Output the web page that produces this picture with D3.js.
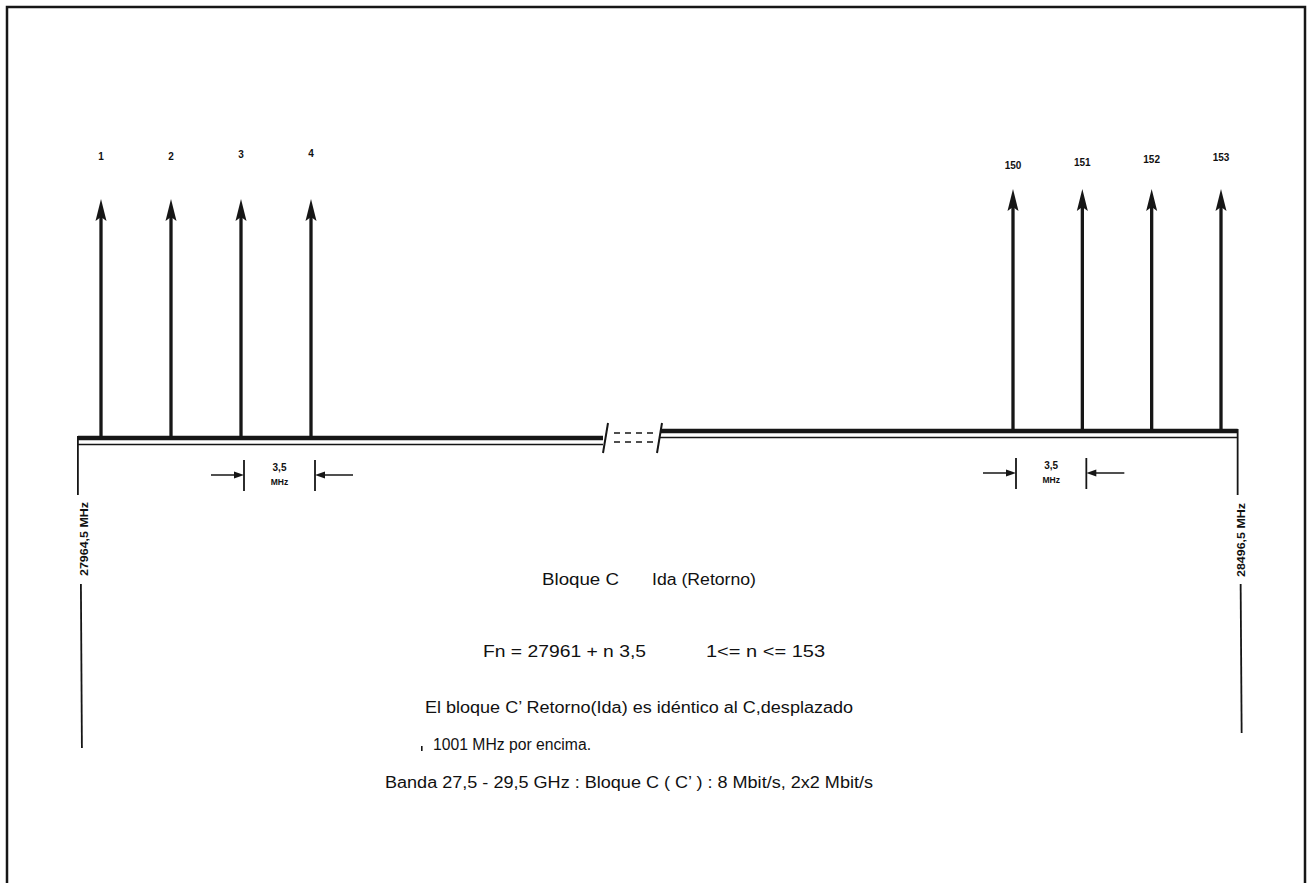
<!DOCTYPE html>
<html>
<head>
<meta charset="utf-8">
<script src="https://cdn.jsdelivr.net/npm/d3@7"></script>
<style>
  html, body { margin: 0; padding: 0; background: #fff; }
  svg { display: block; }
  text { font-family: 'Liberation Sans', Arial, sans-serif; fill: #111; }
</style>
</head>
<body>
<svg id="chart" width="1312" height="883"></svg>
<script>
'use strict';

// channel numbers drawn at each end of the band
var leftChannels = [1, 2, 3, 4];
var rightChannels = [150, 151, 152, 153];
// band edges (MHz)
var edgeLabels = ['27964,5 MHz', '28496,5 MHz'];
// spacing annotation, shown between channels 3-4 and 150-151
var spacingPairs = [[3, 4], [150, 151]];
var spacingLabel = ['3,5', 'MHz'];

var textLines = [
  'Bloque C',
  'Ida (Retorno)',
  'Fn = 27961 + n 3,5',
  '1<= n <= 153',
  'El bloque C\u2019 Retorno(Ida) es idéntico al C,desplazado',
  '1001 MHz por encima.',
  'Banda 27,5 - 29,5 GHz : Bloque C ( C\u2019 ) : 8 Mbit/s, 2x2 Mbit/s'
];

var svg = d3.select('#chart');
var ink = '#161616';

// two pieces of the broken frequency axis
var xLeft = d3.scaleLinear().domain([1, 4]).range([101, 311]);
var xRight = d3.scaleLinear().domain([150, 153]).range([1013, 1221]);

var left = { x: xLeft, channels: leftChannels, base: 438, tip: 199,
  from: xLeft(0.67), to: 603, labelY: [160, 160, 158, 157] };
var right = { x: xRight, channels: rightChannels, base: 431, tip: 189,
  from: 660, to: xRight(153.24), labelY: [169, 166, 163, 161] };

// outer frame (no bottom edge)
svg.append('path')
  .attr('d', 'M7,883 V7 H1305 V883')
  .attr('fill', 'none')
  .attr('stroke', ink)
  .attr('stroke-width', 2.5);

function drawSegment(seg) {
  // thick axis + thin line below it
  svg.append('line')
    .attr('x1', seg.from).attr('x2', seg.to)
    .attr('y1', seg.base).attr('y2', seg.base)
    .attr('stroke', ink).attr('stroke-width', 4.5);
  svg.append('line')
    .attr('x1', seg.from).attr('x2', seg.to)
    .attr('y1', seg.base + 6.5).attr('y2', seg.base + 6.5)
    .attr('stroke', ink).attr('stroke-width', 1.3);

  var g = svg.append('g');
  g.selectAll('line.carrier')
    .data(seg.channels)
    .enter().append('line')
    .attr('class', 'carrier')
    .attr('x1', function(d) { return seg.x(d); })
    .attr('x2', function(d) { return seg.x(d); })
    .attr('y1', seg.base)
    .attr('y2', seg.tip + 15)
    .attr('stroke', ink)
    .attr('stroke-width', 3.3);

  // filled arrow heads
  g.selectAll('path.tip')
    .data(seg.channels)
    .enter().append('path')
    .attr('class', 'tip')
    .attr('d', function(d) {
      var x = seg.x(d);
      return 'M' + x + ',' + seg.tip + ' L' + (x + 5.5) + ',' + (seg.tip + 22) +
        ' L' + x + ',' + (seg.tip + 18) + ' L' + (x - 5.5) + ',' + (seg.tip + 22) + ' Z';
    })
    .attr('fill', ink);

  g.selectAll('text.num')
    .data(seg.channels)
    .enter().append('text')
    .attr('class', 'num')
    .attr('x', function(d) { return seg.x(d); })
    .attr('y', function(d, i) { return seg.labelY[i]; })
    .attr('text-anchor', 'middle')
    .style('font-size', '10px')
    .style('font-weight', 'bold')
    .text(function(d) { return d; });
}

drawSegment(left);
drawSegment(right);

// axis break: two slashes with dashes between
[[608, 603], [662, 657]].forEach(function(s) {
  svg.append('line')
    .attr('x1', s[0]).attr('y1', 423)
    .attr('x2', s[1]).attr('y2', 453)
    .attr('stroke', ink).attr('stroke-width', 2);
});
[433, 442].forEach(function(y) {
  svg.append('line')
    .attr('x1', 614).attr('x2', 654)
    .attr('y1', y).attr('y2', y)
    .attr('stroke', ink).attr('stroke-width', 1.5)
    .attr('stroke-dasharray', '6,5');
});

// band edge verticals with rotated frequency labels
[[left.from, left.base, 748, edgeLabels[0], 84, 539],
 [right.to, right.base, 733, edgeLabels[1], 1241, 540]].forEach(function(e) {
  svg.append('line')
    .attr('x1', e[0]).attr('x2', e[0])
    .attr('y1', e[1] - 2).attr('y2', 495)
    .attr('stroke', ink).attr('stroke-width', 1.8);
  svg.append('line')
    .attr('x1', e[0] + 3).attr('x2', e[0] + 4)
    .attr('y1', 584).attr('y2', e[2])
    .attr('stroke', ink).attr('stroke-width', 1.8);
  svg.append('text')
    .attr('transform', 'translate(' + e[4] + ',' + e[5] + ') rotate(-90)')
    .attr('text-anchor', 'middle')
    .attr('dy', '0.35em')
    .attr('textLength', 74)
    .attr('lengthAdjust', 'spacingAndGlyphs')
    .style('font-size', '10px')
    .style('font-weight', 'bold')
    .text(e[3]);
});

// 3,5 MHz spacing dimensions
spacingPairs.forEach(function(p, i) {
  var seg = i === 0 ? left : right;
  var xa = seg.x(p[0]) + 3;
  var xb = seg.x(p[1]) + 4;
  var y = i === 0 ? 475 : 473;
  [xa, xb].forEach(function(x) {
    svg.append('line')
      .attr('x1', x).attr('x2', x)
      .attr('y1', y - 15).attr('y2', y + 16)
      .attr('stroke', ink).attr('stroke-width', 1.8);
  });
  svg.append('line')
    .attr('x1', xa - 33).attr('x2', xa - 8)
    .attr('y1', y).attr('y2', y)
    .attr('stroke', ink).attr('stroke-width', 1.5);
  svg.append('path')
    .attr('d', 'M' + xa + ',' + y + ' L' + (xa - 10) + ',' + (y - 3.5) + ' L' + (xa - 10) + ',' + (y + 3.5) + ' Z')
    .attr('fill', ink);
  svg.append('line')
    .attr('x1', xb + 8).attr('x2', xb + 38)
    .attr('y1', y).attr('y2', y)
    .attr('stroke', ink).attr('stroke-width', 1.5);
  svg.append('path')
    .attr('d', 'M' + xb + ',' + y + ' L' + (xb + 10) + ',' + (y - 3.5) + ' L' + (xb + 10) + ',' + (y + 3.5) + ' Z')
    .attr('fill', ink);
  var cx = (xa + xb) / 2;
  svg.append('text')
    .attr('x', cx).attr('y', y - 4)
    .attr('text-anchor', 'middle')
    .style('font-size', '10px').style('font-weight', 'bold')
    .text(spacingLabel[0]);
  svg.append('text')
    .attr('x', cx).attr('y', y + 10)
    .attr('text-anchor', 'middle')
    .style('font-size', '8.5px').style('font-weight', 'bold')
    .text(spacingLabel[1]);
});

// caption lines: [text index, x start, x end, baseline]
var captionPlaces = [
  [0, 542, 619, 585],
  [1, 652, 756, 585],
  [2, 483, 646, 657],
  [3, 706, 825, 657],
  [4, 425, 853, 713],
  [5, 433, 591, 750],
  [6, 385, 873, 788]
];
captionPlaces.forEach(function(c) {
  svg.append('text')
    .attr('x', c[1]).attr('y', c[3])
    .attr('textLength', c[2] - c[1])
    .attr('lengthAdjust', 'spacingAndGlyphs')
    .style('font-size', '16px')
    .text(textLines[c[0]]);
});
// stray comma mark before "1001"
svg.append('rect')
  .attr('x', 421).attr('y', 746).attr('width', 1.6).attr('height', 5)
  .attr('fill', ink);
</script>
</body>
</html>
